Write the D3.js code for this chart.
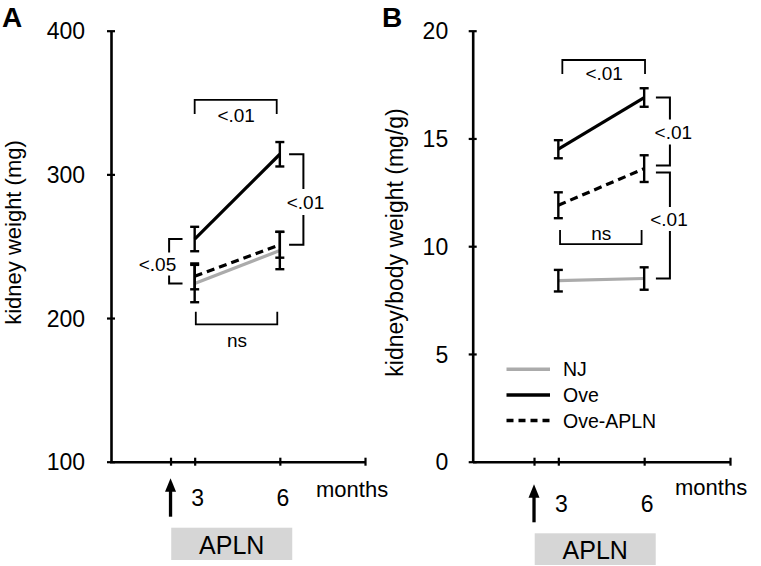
<!DOCTYPE html>
<html>
<head>
<meta charset="utf-8">
<script src="https://cdn.jsdelivr.net/npm/d3@7"></script>
<style>
body { margin: 0; background: #fff; }
text { font-family: "Liberation Sans", Arial, Helvetica, sans-serif; fill: #000; }
</style>
</head>
<body>
<script>
// ---------------- data ----------------
const months = [3, 6];
const seriesNames = ["NJ", "Ove", "Ove-APLN"];

// Panel A: kidney weight (mg)
const kidneyNJ = [224, 247];
const kidneyNJErr = [13, 13];
const kidneyOve = [255, 314];
const kidneyOveErr = [8.5, 8.5];
const kidneyOveAPLN = [229, 251];
const kidneyOveAPLNErr = [9, 9];
const kidneyTicks = [100, 200, 300, 400];

// Panel B: kidney/body weight (mg/g)
const ratioNJ = [8.4, 8.5];
const ratioNJErr = [0.5, 0.52];
const ratioOve = [14.5, 16.9];
const ratioOveErr = [0.42, 0.43];
const ratioOveAPLN = [11.9, 13.6];
const ratioOveAPLNErr = [0.6, 0.62];
const ratioTicks = [0, 5, 10, 15, 20];

const monthTickLabels = ["3", "6"];
const treatmentLabel = "APLN";
const treatmentMonth = 2.15;

// ---------------- drawing ----------------
const W = 761, H = 566;
const svg = d3.select("body").append("svg").attr("width", W).attr("height", H);

const styles = {
  "NJ": { stroke: "#ababab", dash: null },
  "Ove": { stroke: "#000", dash: null },
  "Ove-APLN": { stroke: "#000", dash: "8,5" }
};

const panels = [
  {
    letter: "A", letterX: 2,
    yLabel: "kidney weight (mg)", yLabelX: 20.5, yLabelY: 232.5, yLabelSize: 22,
    x: d3.scaleLinear([0, 9], [109.5, 365]),
    y: d3.scaleLinear([100, 400], [461.7, 30.7]),
    axisX: 111, tickLabelOffset: 26, yTicks: kidneyTicks,
    series: [
      { name: "NJ", v: kidneyNJ, e: kidneyNJErr },
      { name: "Ove-APLN", v: kidneyOveAPLN, e: kidneyOveAPLNErr },
      { name: "Ove", v: kidneyOve, e: kidneyOveErr }
    ],
    xLabelBaseline: 506, monthsX: 316, monthsBaseline: 497.3,
    arrowTip: 478.3, arrowBottom: 516.7, boxTop: 527.7, boxH: 32.3, boxTextBaseline: 554,
    hBrackets: [
      { x1: 3, x2: 5.89, v: 351.8, leg: 14, dir: 1, label: "<.01", labelDy: 21.7 },
      { x1: 3.04, x2: 5.91, v: 195.6, leg: -12.6, dir: -1, label: "ns", labelDy: 22.4 }
    ],
    vBrackets: [
      { xm: 6.83, v1: kidneyOve[1], v2: kidneyOveAPLN[1], arm: -14.3, label: "<.01", lx: 305.5, lc: 202, gap: 26 },
      { xm: 2.1, v1: kidneyOve[0], v2: kidneyNJ[0], arm: 13.4, label: "<.05", lx: 157.5, lc: 264, gap: 23 }
    ],
    legend: false
  },
  {
    letter: "B", letterX: 382,
    yLabel: "kidney/body weight (mg/g)", yLabelX: 403, yLabelY: 242.5, yLabelSize: 23,
    x: d3.scaleLinear([0, 9], [472.5, 730]),
    y: d3.scaleLinear([0, 20], [461.7, 30.7]),
    axisX: 472.7, tickLabelOffset: 24.5, yTicks: ratioTicks,
    series: [
      { name: "NJ", v: ratioNJ, e: ratioNJErr },
      { name: "Ove-APLN", v: ratioOveAPLN, e: ratioOveAPLNErr },
      { name: "Ove", v: ratioOve, e: ratioOveErr }
    ],
    xLabelBaseline: 511.7, monthsX: 675, monthsBaseline: 495,
    arrowTip: 484.3, arrowBottom: 522.3, boxTop: 533.3, boxH: 31.7, boxTextBaseline: 559.3,
    hBrackets: [
      { x1: 3.14, x2: 6.03, v: 18.64, leg: 14, dir: 1, label: "<.01", labelDy: 20 },
      { x1: 3.06, x2: 5.91, v: 10.1, leg: -14, dir: -1, label: "ns", labelDy: -4 }
    ],
    vBrackets: [
      { xm: 6.9, v1: ratioOve[1], v2: 13.75, arm: -14, label: "<.01", lx: 673.3, lc: 132, gap: 25 },
      { xm: 6.9, v1: 13.42, v2: ratioNJ[1], arm: -14, label: "<.01", lx: 669, lc: 219, gap: 24 }
    ],
    legend: true
  }
];

function drawPanel(p) {
  const g = svg.append("g");
  const x = p.x, y = p.y;

  // panel letter
  g.append("text").attr("x", p.letterX).attr("y", 27)
    .attr("font-size", 28).attr("font-weight", "bold").text(p.letter);

  // y label
  g.append("text")
    .attr("transform", `translate(${p.yLabelX},${p.yLabelY}) rotate(-90)`)
    .attr("text-anchor", "middle").attr("font-size", p.yLabelSize).text(p.yLabel);

  // y axis
  const ya = g.append("g").attr("transform", `translate(${p.axisX},0)`)
    .call(d3.axisLeft(y).tickValues(p.yTicks).tickSize(4).tickSizeOuter(0));
  ya.select(".domain").attr("stroke-width", 2.6);
  ya.selectAll(".tick line").attr("x1", 4).attr("x2", -4).attr("stroke-width", 2.2);
  ya.selectAll(".tick text").attr("x", -p.tickLabelOffset).attr("dy", "0.36em")
    .attr("font-size", 23).attr("font-family", null);

  // x axis
  const y0 = y.range()[0];
  const xa = g.append("g").attr("transform", `translate(0,${y0})`)
    .call(d3.axisBottom(x).tickValues([treatmentMonth, months[0], months[1], 9])
      .tickSize(4).tickSizeOuter(0)
      .tickFormat(d => d === months[0] ? monthTickLabels[0] : d === months[1] ? monthTickLabels[1] : ""));
  xa.select(".domain").attr("stroke-width", 2.6);
  xa.selectAll(".tick line").attr("y1", -4).attr("y2", 4).attr("stroke-width", 2.2);
  xa.selectAll(".tick text").attr("y", p.xLabelBaseline - y0).attr("dy", 0).attr("dx", 2.5)
    .attr("font-size", 23).attr("font-family", null);

  g.append("text").attr("x", p.monthsX).attr("y", p.monthsBaseline)
    .attr("font-size", 22).text("months");

  // arrow
  const ax = x(treatmentMonth);
  g.append("line").attr("x1", ax).attr("x2", ax)
    .attr("y1", p.arrowTip + 10).attr("y2", p.arrowBottom)
    .attr("stroke", "#000").attr("stroke-width", 3.3);
  g.append("path")
    .attr("d", `M${ax},${p.arrowTip} L${ax - 5.5},${p.arrowTip + 13.5} L${ax + 5.5},${p.arrowTip + 13.5} Z`)
    .attr("fill", "#000");

  // treatment box
  g.append("rect").attr("x", ax + 0.7).attr("y", p.boxTop).attr("width", 121).attr("height", p.boxH)
    .attr("fill", "#d6d6d6");
  g.append("text").attr("x", ax + 0.7 + 60.5).attr("y", p.boxTextBaseline)
    .attr("text-anchor", "middle").attr("font-size", 25).text(treatmentLabel);

  // series lines
  const line = d3.line().x((d, i) => x(months[i])).y(d => y(d));
  p.series.forEach(s => {
    const st = styles[s.name];
    g.append("path").datum(s.v).attr("d", line)
      .attr("fill", "none").attr("stroke", st.stroke).attr("stroke-width", 3.2)
      .attr("stroke-dasharray", st.dash);
  });
  // error bars
  p.series.forEach(s => {
    s.v.forEach((v, i) => {
      const cx = x(months[i]);
      const top = y(v + s.e[i]), bot = y(v - s.e[i]);
      const eb = g.append("g").attr("stroke", "#000").attr("stroke-width", 2.4);
      eb.append("line").attr("x1", cx).attr("x2", cx).attr("y1", top).attr("y2", bot);
      eb.append("line").attr("x1", cx - 4.5).attr("x2", cx + 4.5).attr("y1", top).attr("y2", top);
      eb.append("line").attr("x1", cx - 4.5).attr("x2", cx + 4.5).attr("y1", bot).attr("y2", bot);
    });
  });

  // horizontal brackets
  p.hBrackets.forEach(b => {
    const bx1 = x(b.x1), bx2 = x(b.x2), by = y(b.v);
    g.append("path")
      .attr("d", `M${bx1},${by + b.leg} V${by} H${bx2} V${by + b.leg}`)
      .attr("fill", "none").attr("stroke", "#000").attr("stroke-width", 1.8);
    g.append("text").attr("x", (bx1 + bx2) / 2 + 0.5).attr("y", by + b.labelDy)
      .attr("text-anchor", "middle").attr("font-size", 19).text(b.label);
  });

  // vertical brackets
  p.vBrackets.forEach(b => {
    const bx = x(b.xm), by1 = y(b.v1), by2 = y(b.v2);
    g.append("path")
      .attr("d", `M${bx + b.arm},${by1} H${bx} V${by2} H${bx + b.arm}`)
      .attr("fill", "none").attr("stroke", "#000").attr("stroke-width", 2);
    g.append("rect").attr("x", b.lx - 20).attr("y", b.lc - b.gap / 2)
      .attr("width", 40).attr("height", b.gap).attr("fill", "#fff");
    g.append("text").attr("x", b.lx).attr("y", b.lc).attr("dy", "0.36em")
      .attr("text-anchor", "middle").attr("font-size", 19).text(b.label);
  });

  // legend
  if (p.legend) {
    const lg = g.append("g");
    const order = ["NJ", "Ove", "Ove-APLN"];
    const ly = [369.3, 395, 420.5];
    order.forEach((n, i) => {
      const st = styles[n];
      lg.append("line").attr("x1", 506.5).attr("x2", 550).attr("y1", ly[i]).attr("y2", ly[i])
        .attr("stroke", st.stroke).attr("stroke-width", 3.6)
        .attr("stroke-dasharray", n === "Ove-APLN" ? "7,5" : null);
      lg.append("text").attr("x", 563).attr("y", ly[i]).attr("dy", "0.36em")
        .attr("font-size", 19.5).text(n);
    });
  }
}

panels.forEach(drawPanel);
</script>
</body>
</html>
